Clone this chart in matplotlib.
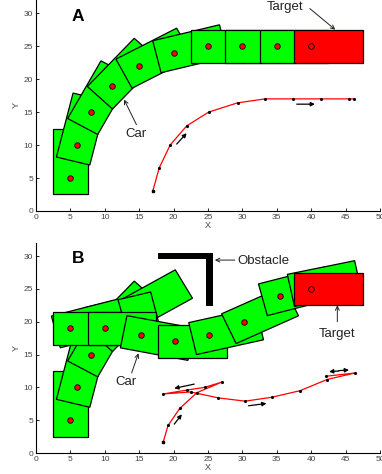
import matplotlib
matplotlib.use("Agg")
import matplotlib.pyplot as plt
from matplotlib.patches import Rectangle

plt.rcParams['font.family'] = ['Liberation Sans', 'DejaVu Sans']

# ---- panel A data ----
a_car_x = [5, 6, 8, 11, 15, 20, 25, 30, 35]
a_car_y = [5, 10, 15, 19, 22, 24, 25, 25, 25]
a_car_heading = [90, 76, 61, 47, 28, 14, 0, 0, 0]

a_path_x = [17.0, 17.9, 19.5, 21.9, 25.1, 29.3, 33.3, 37.4, 41.4, 45.5, 46.2]
a_path_y = [3.1, 6.5, 10.0, 12.9, 15.0, 16.4, 17.0, 17.0, 17.0, 17.0, 17.0]

# motion arrows (tail -> head)
a_arrow_x0 = [20.45, 37.9]
a_arrow_y0 = [10.15, 16.2]
a_arrow_x1 = [21.9, 40.55]
a_arrow_y1 = [11.8, 16.2]

# ---- panel B data ----
b_car_x = [5, 6, 8, 11, 15, 10, 5.3, 5, 10, 15.2, 20.2, 25.2, 30.3, 35.4, 39.5]
b_car_y = [5, 10, 15, 19, 22, 20.3, 19.1, 19, 19, 18, 17, 18, 20, 24, 25.3]
b_car_heading = [90, 76, 61, 47, 30, 14, 15, 0, 0, -11, 0, 13, 25, 15, 12]

b_path_x = [18.5, 19.2, 20.9, 23.4, 27.0, 24.5, 22.0, 18.5, 22.5, 26.5, 30.4, 34.3, 38.4, 42.3, 46.4, 42.2]
b_path_y = [1.7, 4.2, 6.8, 9.2, 10.8, 10.0, 9.6, 9.0, 9.3, 8.4, 7.9, 8.5, 9.5, 11.2, 12.2, 11.7]

b_arrow_x0 = [20.1, 23.0, 30.9, 44.0, 44.0]
b_arrow_y0 = [4.4, 10.5, 7.2, 12.5, 12.55]
b_arrow_x1 = [21.2, 20.1, 33.5, 42.6, 45.5]
b_arrow_y1 = [5.9, 9.85, 7.55, 12.4, 12.65]

# obstacle bars: x, y, width, height
obstacle_x = [17.7, 24.7]
obstacle_y = [29.5, 22.4]
obstacle_w = [8.1, 1.1]
obstacle_h = [1.0, 8.1]

target_x, target_y, target_heading = 40, 25, 0

CAR_LEN, CAR_WID, REAR = 10, 5, 2.5


def draw_car(ax, x, y, h, color, z):
    rect = Rectangle((x - REAR, y - CAR_WID / 2), CAR_LEN, CAR_WID, angle=h,
                     rotation_point=(x, y), facecolor=color, edgecolor='black',
                     linewidth=0.9, zorder=z)
    ax.add_patch(rect)
    ax.plot(x, y, 'o', color='red', markeredgecolor='black', markersize=4,
            markeredgewidth=0.6, zorder=z + 0.05)


def draw_path(ax, px, py):
    ax.plot(px, py, '-', color='red', linewidth=0.9, zorder=10)
    ax.plot(px, py, '.', color='black', markersize=2.5, zorder=11)
    ax.plot(px[0], py[0], 's', color='black', markersize=2, zorder=11)


def draw_arrows(ax, x0, y0, x1, y1):
    for i in range(len(x0)):
        ax.annotate('', xy=(x1[i], y1[i]), xytext=(x0[i], y0[i]),
                    arrowprops=dict(arrowstyle='-|>', color='black', lw=0.9,
                                    mutation_scale=6, shrinkA=0, shrinkB=0))


def label_arrow(ax, text, tx, ty, x0, y0, x1, y1):
    ax.text(tx, ty, text, fontsize=9.5, ha='center', va='center', color='#222222')
    ax.annotate('', xy=(x1, y1), xytext=(x0, y0),
                arrowprops=dict(arrowstyle='->', color='#222222', lw=0.7,
                                mutation_scale=7, shrinkA=0, shrinkB=0))


def style_axes(ax):
    ax.set_xlim(0, 50)
    ax.set_ylim(0, 32)
    ax.set_xticks(range(0, 51, 5))
    ax.set_yticks(range(0, 31, 5))
    for s in ['top', 'right']:
        ax.spines[s].set_visible(False)
    for s in ['left', 'bottom']:
        ax.spines[s].set_linewidth(0.8)
    ax.tick_params(direction='in', length=2.5, width=0.6, labelsize=6,
                   labelcolor='#444444', pad=2)
    ax.set_xlabel('X', fontsize=6.5, labelpad=0, color='#444444')
    ax.set_ylabel('Y', fontsize=6.5, labelpad=2, color='#444444')


fig = plt.figure(figsize=(3.82, 4.74), dpi=100)
ax1 = fig.add_axes([0.0942, 0.5549, 0.9005, 0.4451])
ax2 = fig.add_axes([0.0942, 0.0443, 0.9005, 0.4430])

# Panel A
for i, (x, y, h) in enumerate(zip(a_car_x, a_car_y, a_car_heading)):
    draw_car(ax1, x, y, h, '#00ff00', 2 + 0.1 * i)
draw_car(ax1, target_x, target_y, target_heading, '#ff0000', 5)
draw_path(ax1, a_path_x, a_path_y)
draw_arrows(ax1, a_arrow_x0, a_arrow_y0, a_arrow_x1, a_arrow_y1)
label_arrow(ax1, 'Target', 36.2, 30.9, 39.8, 30.7, 43.5, 27.5)
label_arrow(ax1, 'Car', 14.6, 11.7, 14.6, 13.1, 12.8, 16.9)
ax1.text(6.1, 29.5, 'A', fontsize=12.5, fontweight='bold', ha='center', va='center')
style_axes(ax1)

# Panel B
for i, (x, y, h) in enumerate(zip(b_car_x, b_car_y, b_car_heading)):
    draw_car(ax2, x, y, h, '#00ff00', 2 + 0.1 * i)
draw_car(ax2, target_x, target_y, target_heading, '#ff0000', 5)
for i in range(len(obstacle_x)):
    ax2.add_patch(Rectangle((obstacle_x[i], obstacle_y[i]), obstacle_w[i], obstacle_h[i],
                            facecolor='black', edgecolor='none', zorder=6))
draw_path(ax2, b_path_x, b_path_y)
draw_arrows(ax2, b_arrow_x0, b_arrow_y0, b_arrow_x1, b_arrow_y1)
ax2.text(29.2, 29.3, 'Obstacle', fontsize=9.5, ha='left', va='center', color='#222222')
ax2.annotate('', xy=(26.0, 29.4), xytext=(28.9, 29.4),
             arrowprops=dict(arrowstyle='->', color='#222222', lw=0.7,
                             mutation_scale=7, shrinkA=0, shrinkB=0))
label_arrow(ax2, 'Target', 43.7, 18.2, 43.8, 20.0, 43.8, 22.5)
label_arrow(ax2, 'Car', 13.1, 10.8, 13.9, 12.2, 14.9, 15.2)
ax2.text(6.15, 29.6, 'B', fontsize=12.5, fontweight='bold', ha='center', va='center')
style_axes(ax2)

fig.savefig('out.png', dpi=100)
